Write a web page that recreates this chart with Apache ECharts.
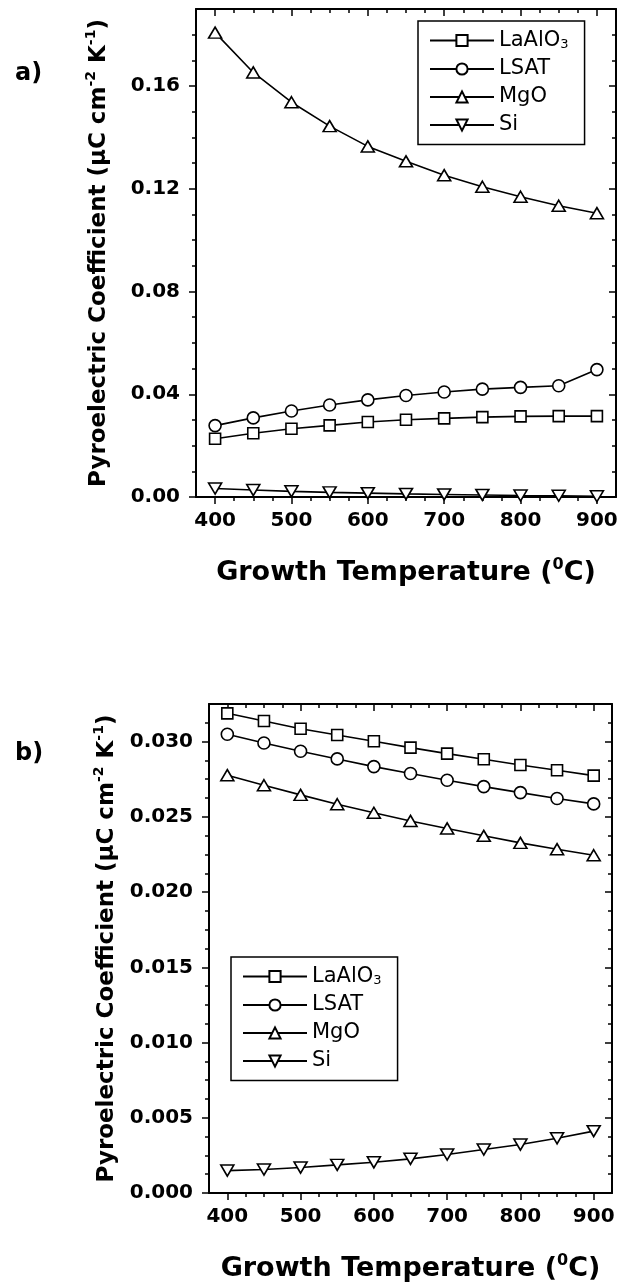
<!DOCTYPE html>
<html>
<head>
<meta charset="utf-8">
<script src="https://cdn.jsdelivr.net/npm/echarts@6/dist/echarts.min.js"></script>
<style>
html,body{margin:0;padding:0;background:#fff;}
#c{width:630px;height:1283px;}
</style>
</head>
<body>
<div id="c"></div>
<script>
// ---- data ----
const temps = [400, 450, 500, 550, 600, 650, 700, 750, 800, 850, 900];
const seriesNames = ['LaAlO3', 'LSAT', 'MgO', 'Si'];

// panel a)
const aLaAlO3 = [0.0227, 0.0248, 0.0266, 0.0279, 0.0292, 0.0301, 0.0306, 0.0311, 0.0314, 0.0315, 0.0315];
const aLSAT   = [0.0278, 0.0308, 0.0335, 0.0358, 0.0378, 0.0395, 0.0409, 0.0420, 0.0427, 0.0433, 0.0496];
const aMgO    = [0.1808, 0.1653, 0.1537, 0.1444, 0.1365, 0.1307, 0.1253, 0.1208, 0.1169, 0.1134, 0.1105];
const aSi     = [0.0033, 0.0027, 0.0022, 0.0018, 0.0015, 0.0012, 0.0010, 0.0008, 0.0006, 0.0005, 0.0003];

// panel b)
const bLaAlO3 = [0.03188, 0.03137, 0.03086, 0.03044, 0.03002, 0.02960, 0.02920, 0.02883, 0.02845, 0.02810, 0.02774];
const bLSAT   = [0.03049, 0.02991, 0.02936, 0.02885, 0.02834, 0.02788, 0.02743, 0.02701, 0.02661, 0.02622, 0.02586];
const bMgO    = [0.02777, 0.02710, 0.02646, 0.02584, 0.02527, 0.02473, 0.02423, 0.02374, 0.02327, 0.02285, 0.02245];
const bSi     = [0.00149, 0.00156, 0.00169, 0.00187, 0.00204, 0.00227, 0.00256, 0.00289, 0.00322, 0.00364, 0.00411];

// ticks
const xMajorTicks = [400, 500, 600, 700, 800, 900];
const xMinorTicks = [425, 450, 475, 525, 550, 575, 625, 650, 675, 725, 750, 775, 825, 850, 875];
const aYMajorTicks = [0, 0.04, 0.08, 0.12, 0.16];
const aYMinorTicks = [0.01, 0.02, 0.03, 0.05, 0.06, 0.07, 0.09, 0.10, 0.11, 0.13, 0.14, 0.15, 0.17, 0.18];
const bYMajorTicks = [0, 0.005, 0.010, 0.015, 0.020, 0.025, 0.030];
const bYMinorTicks = [0.00125, 0.0025, 0.00375, 0.00625, 0.0075, 0.00875, 0.01125, 0.0125, 0.01375,
                      0.01625, 0.0175, 0.01875, 0.02125, 0.0225, 0.02375, 0.02625, 0.0275, 0.02875, 0.03125];

// ---- styling helpers ----
const FONT = 'DejaVu Sans';
const BLACK = '#000';
const tickStyle = {color: BLACK, width: 1.5};

function pairs(vals) { return temps.map((t, i) => [t, vals[i]]); }

const xNameRich = {
  b: {fontFamily: FONT, fontWeight: 'bold', fontSize: 27, lineHeight: 32, color: BLACK},
  s: {fontFamily: FONT, fontWeight: 'bold', fontSize: 16, lineHeight: 16, verticalAlign: 'top', color: BLACK}
};
const yNameRich = {
  b: {fontFamily: FONT, fontWeight: 'bold', fontSize: 23, lineHeight: 30, color: BLACK},
  s: {fontFamily: FONT, fontWeight: 'bold', fontSize: 14, lineHeight: 14, verticalAlign: 'top', color: BLACK}
};

function makeXAxes(gi) {
  const base = {type: 'value', gridIndex: gi, min: 375, max: 925, splitLine: {show: false},
    axisLine: {onZero: false, lineStyle: {color: BLACK, width: 2}}};
  return [
    Object.assign({}, base, {
      position: 'bottom',
      axisTick: {customValues: xMajorTicks, length: 7, lineStyle: tickStyle},
      axisLabel: {customValues: xMajorTicks, margin: 14, color: BLACK, fontFamily: FONT, fontWeight: 'bold', fontSize: 20},
      name: '{b|Growth Temperature (}{s|0}{b|C)}',
      nameLocation: 'middle', nameGap: 60,
      nameTextStyle: {rich: xNameRich}
    }),
    Object.assign({}, base, {
      position: 'bottom', axisLine: {show: false, onZero: false},
      axisTick: {customValues: xMinorTicks, length: 4, lineStyle: tickStyle},
      axisLabel: {show: false}
    }),
    Object.assign({}, base, {
      position: 'top',
      axisTick: {inside: true, customValues: xMajorTicks, length: 7, lineStyle: tickStyle},
      axisLabel: {show: false}
    }),
    Object.assign({}, base, {
      position: 'top', axisLine: {show: false, onZero: false},
      axisTick: {inside: true, customValues: xMinorTicks, length: 4, lineStyle: tickStyle},
      axisLabel: {show: false}
    })
  ];
}

function makeYAxes(gi, max, major, minor, digits, nameGap) {
  const base = {type: 'value', gridIndex: gi, min: 0, max: max, splitLine: {show: false},
    axisLine: {onZero: false, lineStyle: {color: BLACK, width: 2}}};
  return [
    Object.assign({}, base, {
      position: 'left',
      axisTick: {customValues: major, length: 7, lineStyle: tickStyle},
      axisLabel: {customValues: major, margin: 16, color: BLACK, fontFamily: FONT, fontWeight: 'bold', fontSize: 20,
        formatter: v => Number(v).toFixed(digits)},
      name: '{b|Pyroelectric Coefficient (\u03BCC cm}{s|-2}{b| K}{s|-1}{b|)}',
      nameLocation: 'middle', nameGap: nameGap,
      nameTextStyle: {rich: yNameRich}
    }),
    Object.assign({}, base, {
      position: 'left', axisLine: {show: false, onZero: false},
      axisTick: {customValues: minor, length: 4, lineStyle: tickStyle},
      axisLabel: {show: false}
    }),
    Object.assign({}, base, {
      position: 'right',
      axisTick: {inside: true, customValues: major, length: 7, lineStyle: tickStyle},
      axisLabel: {show: false}
    }),
    Object.assign({}, base, {
      position: 'right', axisLine: {show: false, onZero: false},
      axisTick: {inside: true, customValues: minor, length: 4, lineStyle: tickStyle},
      axisLabel: {show: false}
    })
  ];
}

const symbolDefs = {
  LaAlO3: {symbol: 'rect', symbolSize: 11, symbolRotate: 0},
  LSAT: {symbol: 'circle', symbolSize: 12, symbolRotate: 0},
  MgO: {symbol: 'triangle', symbolSize: [13, 11], symbolRotate: 0},
  Si: {symbol: 'triangle', symbolSize: [13, 11], symbolRotate: 180}
};

function makeSeries(name, vals, axisIdx) {
  const s = symbolDefs[name];
  return {
    type: 'line', name: name, data: pairs(vals),
    xAxisIndex: axisIdx, yAxisIndex: axisIdx,
    symbol: s.symbol, symbolSize: s.symbolSize, symbolRotate: s.symbolRotate,
    showAllSymbol: true, animation: false, smooth: false,
    lineStyle: {color: BLACK, width: 1.6},
    itemStyle: {color: '#fff', borderColor: BLACK, borderWidth: 1.6},
    emphasis: {disabled: true}
  };
}

function legendFormatter(name) {
  return name === 'LaAlO3' ? '{n|LaAlO}{s|3}' : '{n|' + name + '}';
}
const legendRich = {
  n: {fontFamily: FONT, fontSize: 21, lineHeight: 22, color: BLACK},
  s: {fontFamily: FONT, fontSize: 13, lineHeight: 10, verticalAlign: 'bottom', color: BLACK}
};
function makeLegend(left, top) {
  return {
    orient: 'vertical', left: left, top: top, data: seriesNames,
    itemWidth: 64, itemHeight: 14, itemGap: 7,
    padding: [9, 16, 9, 11],
    borderColor: BLACK, borderWidth: 1.5, backgroundColor: '#fff',
    selectedMode: false,
    formatter: legendFormatter,
    textStyle: {color: BLACK, fontFamily: FONT, fontSize: 21, rich: legendRich}
  };
}

const chart = echarts.init(document.getElementById('c'), null, {renderer: 'canvas'});
chart.setOption({
  animation: false,
  backgroundColor: '#fff',
  grid: [
    {left: 196, top: 9, width: 420, height: 488, outerBoundsMode: 'none', containLabel: false},
    {left: 209, top: 704, width: 403, height: 489, outerBoundsMode: 'none', containLabel: false}
  ],
  xAxis: makeXAxes(0).concat(makeXAxes(1)),
  yAxis: makeYAxes(0, 0.19, aYMajorTicks, aYMinorTicks, 2, 82)
    .concat(makeYAxes(1, 0.0325, bYMajorTicks, bYMinorTicks, 3, 87)),
  legend: [makeLegend(418, 21), makeLegend(231, 957)],
  graphic: [
    {type: 'text', left: 15, top: 62, style: {text: 'a)', font: 'bold 24px "DejaVu Sans"', fill: BLACK}},
    {type: 'text', left: 15, top: 742, style: {text: 'b)', font: 'bold 24px "DejaVu Sans"', fill: BLACK}}
  ],
  series: [
    makeSeries('LaAlO3', aLaAlO3, 0),
    makeSeries('LSAT', aLSAT, 0),
    makeSeries('MgO', aMgO, 0),
    makeSeries('Si', aSi, 0),
    makeSeries('LaAlO3', bLaAlO3, 4),
    makeSeries('LSAT', bLSAT, 4),
    makeSeries('MgO', bMgO, 4),
    makeSeries('Si', bSi, 4)
  ]
});
</script>
</body>
</html>
